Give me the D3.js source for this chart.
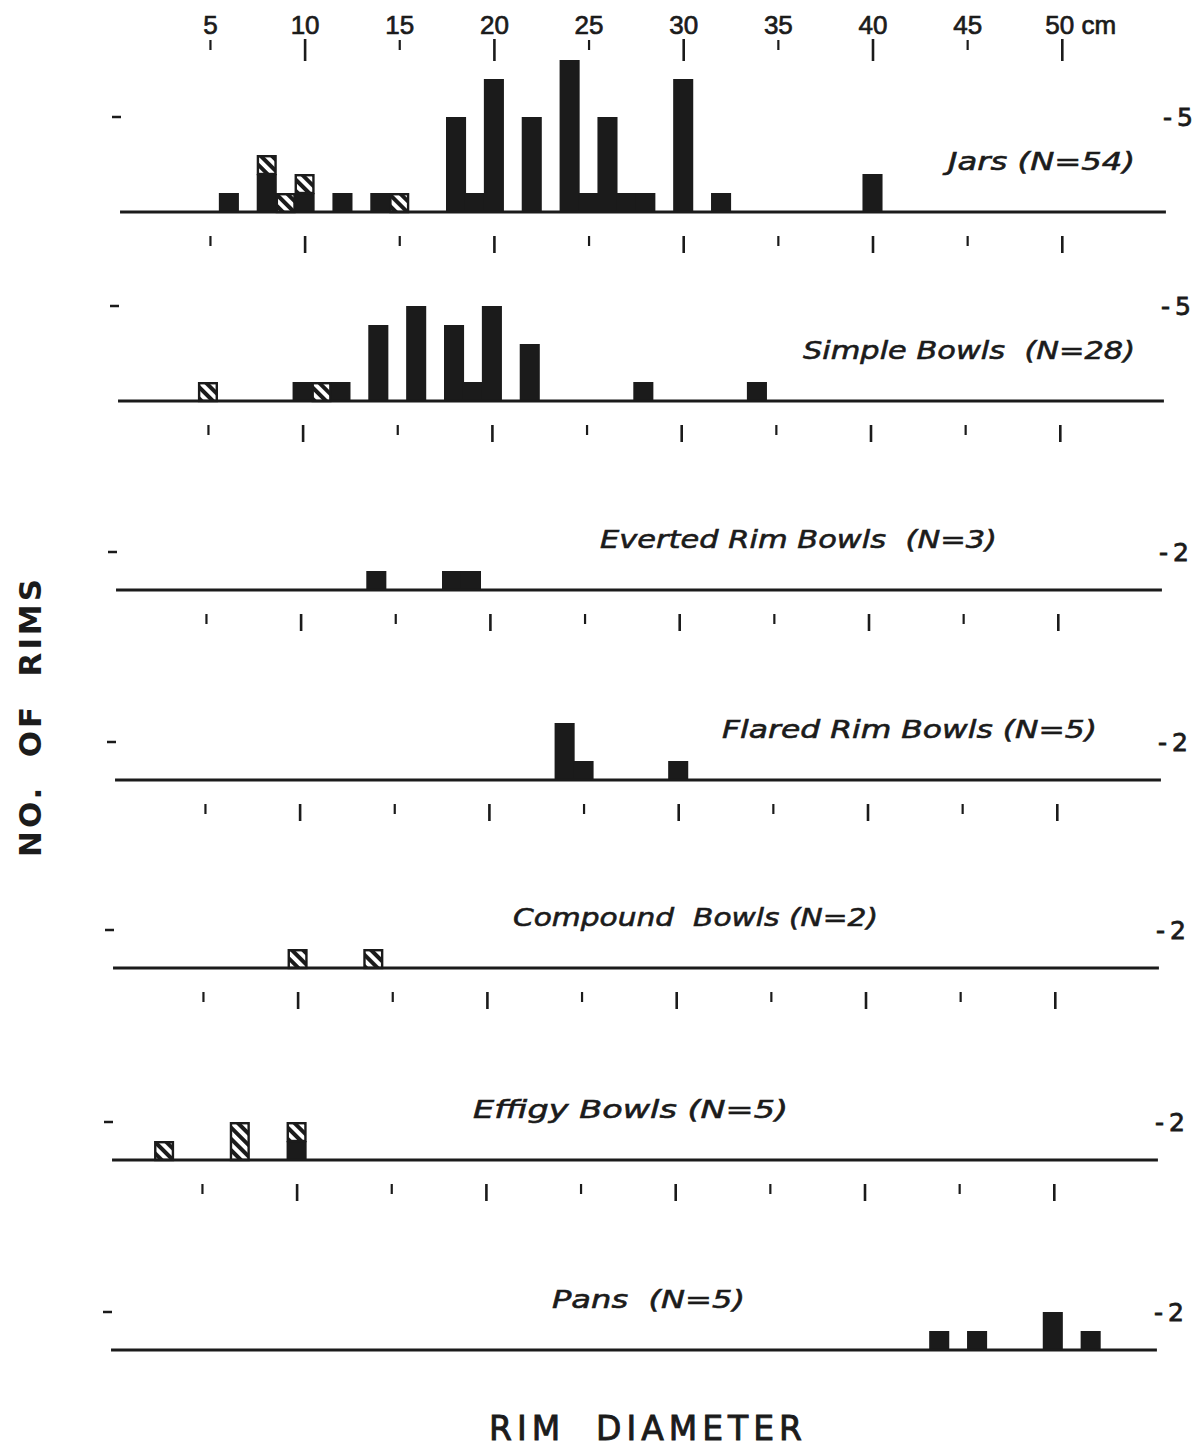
<!DOCTYPE html>
<html>
<head>
<meta charset="utf-8">
<script src="https://cdn.jsdelivr.net/npm/d3@7"></script>
<style>
  body { margin: 0; background: #fff; }
  svg { display: block; font-family: "DejaVu Sans", sans-serif; }
  .lbl { white-space: pre; }
</style>
</head>
<body>
<svg id="chart" width="1204" height="1455"></svg>
<script>
// each row: rim diameter (cm), plain count, hatched count
const jars          = [[6,1,0],[8,2,1],[9,0,1],[10,1,1],[12,1,0],[14,1,0],[15,0,1],[18,5,0],[19,1,0],[20,7,0],
                       [22,5,0],[24,8,0],[25,1,0],[26,5,0],[27,1,0],[28,1,0],[30,7,0],[32,1,0],[40,2,0]];
const simpleBowls   = [[5,0,1],[10,1,0],[11,0,1],[12,1,0],[14,4,0],[16,5,0],[18,4,0],[19,1,0],[20,5,0],[22,3,0],[28,1,0],[34,1,0]];
const evertedBowls  = [[14,1,0],[18,1,0],[19,1,0]];
const flaredBowls   = [[24,3,0],[25,1,0],[30,1,0]];
const compoundBowls = [[10,0,1],[14,0,1]];
const effigyBowls   = [[3,0,1],[7,0,2],[10,1,1]];
const pans          = [[44,1,0],[46,1,0],[50,2,0],[52,1,0]];

const panelData   = [jars, simpleBowls, evertedBowls, flaredBowls, compoundBowls, effigyBowls, pans];
const panelLabels = ["Jars (N=54)", "Simple Bowls  (N=28)", "Everted Rim Bowls  (N=3)", "Flared Rim Bowls (N=5)",
                     "Compound  Bowls (N=2)", "Effigy Bowls (N=5)", "Pans  (N=5)"];
const panelMarks  = [5, 5, 2, 2, 2, 2, 2];
const majorTicks  = [10, 20, 30, 40, 50];
const minorTicks  = [5, 15, 25, 35, 45];

// layout (the scan drifts a little to the left going down)
const baseY   = [212, 401, 590, 780, 968, 1160, 1350];
const shiftX  = [0, -2, -4, -5, -7, -8, -9];
const labelX  = [948, 803, 600, 722, 513, 473, 552];
const labelW  = [187, 332, 397, 375, 365, 315, 193];
const ink = "#1b1b1b";
const unit = 19;

const svg = d3.select("#chart");
const x = d3.scaleLinear().domain([0, 50]).range([115.3, 115.3 + 50 * 18.93]);
const y = d3.scaleLinear().domain([0, 1]).range([0, -unit]);

// hatch pattern: white diagonal stripes on black
const pat = svg.append("defs").append("pattern")
    .attr("id", "hatch").attr("patternUnits", "userSpaceOnUse")
    .attr("width", 8).attr("height", 8)
    .attr("patternTransform", "rotate(-45)");
pat.append("rect").attr("width", 8).attr("height", 8).attr("fill", ink);
pat.append("rect").attr("x", 2).attr("width", 4).attr("height", 8).attr("fill", "#fff");

// top axis: ticks hang from y=38/40, labels sit on y=34
function topAxis(values, size, top) {
    const g = svg.append("g")
        .attr("transform", `translate(0,${top + size})`)
        .call(d3.axisTop(x).tickValues(values).tickSize(size).tickPadding(top - 34)
            .tickFormat(d => d === 50 ? "50 cm" : d));
    g.select(".domain").remove();
    g.selectAll(".tick line").attr("stroke", ink).attr("stroke-width", size > 15 ? 2.6 : 2.2);
    g.selectAll(".tick text").attr("fill", ink).attr("font-size", 26)
        .attr("stroke", ink).attr("stroke-width", 0.7);
    g.selectAll(".tick text").filter(d => d === 50)
        .attr("text-anchor", "start").attr("x", -17)
        .attr("class", "lbl").text("50 cm");
}
topAxis(majorTicks, 22, 39);
topAxis(minorTicks, 10, 40);

panelData.forEach((rows, i) => {
    const g = svg.append("g").attr("transform", `translate(${shiftX[i]},${baseY[i]})`);
    const bw = x(1.06) - x(0);

    // plain part
    g.selectAll("rect.plain").data(rows.filter(r => r[1] > 0)).join("rect")
        .attr("class", "plain")
        .attr("x", r => x(r[0]) - bw / 2)
        .attr("width", bw)
        .attr("y", r => y(r[1]))
        .attr("height", r => y(0) - y(r[1]))
        .attr("fill", ink);

    // hatched part, stacked above the plain part
    g.selectAll("rect.hatch").data(rows.filter(r => r[2] > 0)).join("rect")
        .attr("class", "hatch")
        .attr("x", r => x(r[0]) - bw / 2 + 1.2)
        .attr("width", bw - 2.4)
        .attr("y", r => y(r[1] + r[2]) + 1.2)
        .attr("height", r => y(r[1]) - y(r[1] + r[2]) - 1.2)
        .attr("fill", "url(#hatch)")
        .attr("stroke", ink).attr("stroke-width", 2.4);

    // baseline
    g.append("line")
        .attr("x1", x(0.25)).attr("x2", x(55.5))
        .attr("stroke", ink).attr("stroke-width", 3.2);

    // scale mark on both sides
    g.append("line")
        .attr("x1", 112).attr("x2", 121)
        .attr("y1", y(panelMarks[i])).attr("y2", y(panelMarks[i]))
        .attr("stroke", ink).attr("stroke-width", 2.5);
    g.append("text").attr("class", "lbl")
        .attr("x", 1163).attr("y", y(panelMarks[i]) + 9)
        .attr("font-size", 25).attr("fill", ink)
        .attr("stroke", ink).attr("stroke-width", 0.8)
        .text("-\u2009" + panelMarks[i]);

    // ticks under each panel except the last
    if (i < panelData.length - 1) {
        [[majorTicks, 17, 2.6], [minorTicks, 10, 2.2]].forEach(([vals, size, sw]) => {
            const a = g.append("g").attr("transform", "translate(0,24)")
                .call(d3.axisBottom(x).tickValues(vals).tickSize(size).tickFormat(""));
            a.select(".domain").remove();
            a.selectAll(".tick line").attr("stroke", ink).attr("stroke-width", sw);
        });
    }

    // series label
    svg.append("text").attr("class", "lbl")
        .attr("x", labelX[i]).attr("y", baseY[i] - 42)
        .attr("textLength", labelW[i]).attr("lengthAdjust", "spacingAndGlyphs")
        .attr("font-size", 25).attr("font-style", "italic").attr("fill", ink)
        .attr("stroke", ink).attr("stroke-width", 0.6)
        .text(panelLabels[i]);
});

// axis titles
svg.append("text").attr("class", "lbl")
    .attr("transform", "translate(41,718) rotate(-90)")
    .attr("text-anchor", "middle")
    .attr("textLength", 278).attr("lengthAdjust", "spacing")
    .attr("font-size", 31).attr("font-weight", "bold").attr("fill", ink)
    .text("NO.  OF  RIMS");

svg.append("text").attr("class", "lbl")
    .attr("x", 489).attr("y", 1440)
    .attr("textLength", 313).attr("lengthAdjust", "spacing")
    .attr("font-size", 33).attr("fill", ink)
    .attr("stroke", ink).attr("stroke-width", 0.9)
    .text("RIM  DIAMETER");
</script>
</body>
</html>
